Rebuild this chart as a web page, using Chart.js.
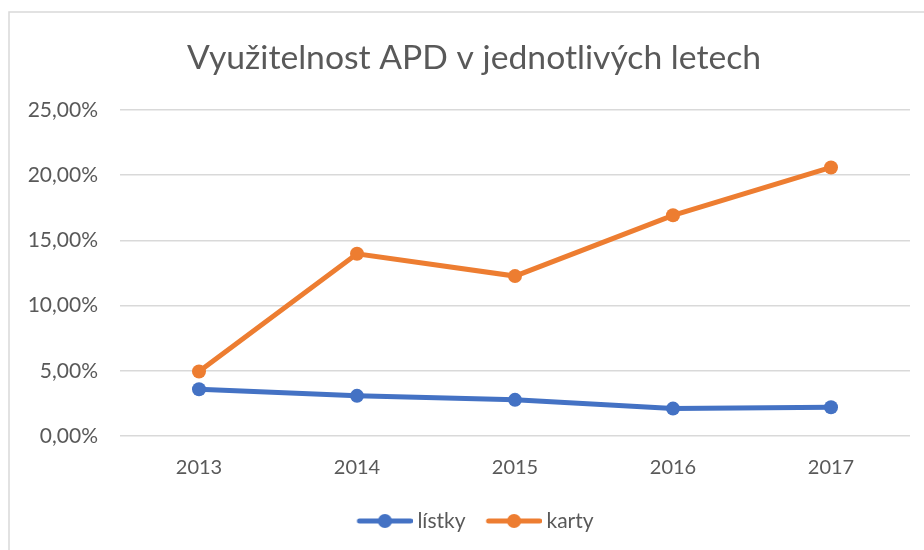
<!DOCTYPE html>
<html>
<head>
<meta charset="utf-8">
<script src="https://cdn.jsdelivr.net/npm/chart.js@4/dist/chart.umd.min.js"></script>
<style>
html,body{margin:0;padding:0;background:#fff;}
#wrap{position:relative;width:924px;height:550px;}
</style>
</head>
<body>
<div id="wrap"><canvas id="c" width="924" height="550"></canvas></div>
<script>
const title = 'Využitelnost APD v jednotlivých letech';
const categories = ['2013', '2014', '2015', '2016', '2017'];
const listky = [3.59, 3.08, 2.77, 2.10, 2.20];
const karty = [4.95, 13.97, 12.26, 16.92, 20.59];
const seriesNames = ['lístky', 'karty'];
const colors = ['#4472C4', '#ED7D31'];

const FONT = 'Lato, "Open Sans", sans-serif';
const textColor = '#595959';
const LEG_BOX = 54.5;

function legendIcon(color) {
  const W = 66, H = 16;
  const cv = document.createElement('canvas');
  cv.width = W; cv.height = H;
  const g = cv.getContext('2d');
  const x0 = W / 2 - LEG_BOX / 2;
  const ls = x0 + 5, le = x0 + 60;
  g.strokeStyle = color; g.lineWidth = 5; g.lineCap = 'round';
  g.beginPath(); g.moveTo(ls + 2, 8); g.lineTo(le - 2, 8); g.stroke();
  g.fillStyle = color;
  g.beginPath(); g.arc((ls + le) / 2, 8, 7, 0, Math.PI * 2); g.fill();
  return cv;
}

const borderPlugin = {
  id: 'outerBorder',
  beforeDraw(chart) {
    const ctx = chart.ctx;
    ctx.save();
    ctx.strokeStyle = '#D9D9D9';
    ctx.lineWidth = 1.5;
    ctx.strokeRect(9, 12, 930, 560);
    ctx.restore();
  }
};

const boxShift = {
  id: 'boxShift',
  afterLayout(chart) {
    const t = chart.titleBlock;
    if (t) { t.left += 19; t.right += 19; }
    const lg = chart.legend;
    if (lg) { lg.left += 18; lg.right += 18; }
  }
};

new Chart(document.getElementById('c'), {
  type: 'line',
  data: {
    labels: categories,
    datasets: [
      { label: seriesNames[0], data: listky, borderColor: colors[0], backgroundColor: colors[0],
        borderWidth: 5, pointRadius: 7, pointHoverRadius: 7, pointBorderWidth: 0, tension: 0 },
      { label: seriesNames[1], data: karty, borderColor: colors[1], backgroundColor: colors[1],
        borderWidth: 5, pointRadius: 7, pointHoverRadius: 7, pointBorderWidth: 0, tension: 0 }
    ]
  },
  options: {
    responsive: false,
    animation: false,
    devicePixelRatio: 1,
    layout: { padding: { left: 0, right: 14, top: 0, bottom: 8.5 } },
    plugins: {
      title: {
        display: true, text: title, color: textColor,
        font: { family: FONT, size: 33.7, weight: 'normal' },
        padding: { top: 37.5, bottom: 32 }
      },
      legend: {
        position: 'bottom',
        labels: {
          color: textColor,
          font: { family: FONT, size: 21 },
          usePointStyle: true,
          pointStyleWidth: LEG_BOX,
          padding: 16,
          generateLabels(chart) {
            return chart.data.datasets.map((ds, i) => ({
              text: ds.label, fillStyle: ds.borderColor, strokeStyle: ds.borderColor,
              pointStyle: legendIcon(ds.borderColor), lineWidth: 0, datasetIndex: i, hidden: false,
              fontColor: textColor
            }));
          }
        }
      },
      tooltip: { enabled: false }
    },
    scales: {
      x: {
        offset: true,
        grid: { display: false, drawTicks: false },
        border: { display: false },
        ticks: { color: textColor, font: { family: FONT, size: 20 }, padding: 20 },
        afterFit(s) { s.height = 58.5; }
      },
      y: {
        min: 0, max: 25,
        grid: { color: '#D9D9D9', lineWidth: 1.5, drawTicks: false },
        border: { display: false },
        ticks: {
          stepSize: 5, color: textColor, font: { family: FONT, size: 21 }, padding: 22,
          callback: v => v.toFixed(2).replace('.', ',') + '%'
        },
        afterFit(s) { s.width = 120; }
      }
    }
  },
  plugins: [borderPlugin, boxShift]
});
</script>
</body>
</html>
